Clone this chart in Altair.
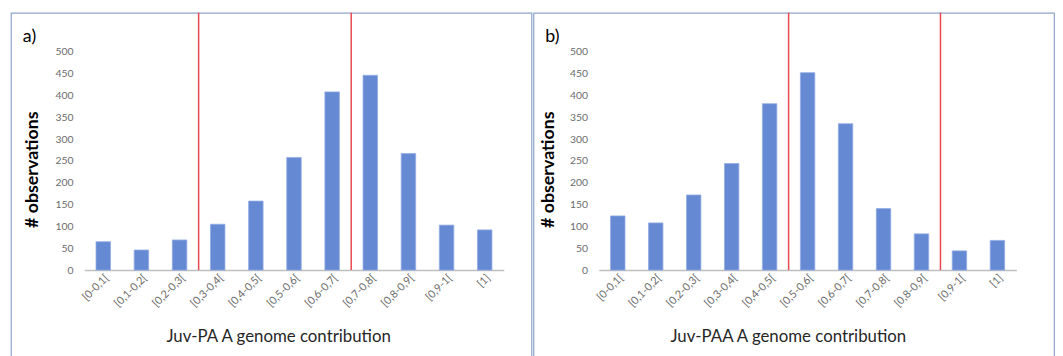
import altair as alt
import pandas as pd

categories = ["[0-0,1[", "[0,1-0,2[", "[0,2-0,3[", "[0,3-0,4[", "[0,4-0,5[",
              "[0,5-0,6[", "[0,6-0,7[", "[0,7-0,8[", "[0,8-0,9[", "[0,9-1[", "[1]"]
values_a = [65, 46, 69, 105, 158, 258, 408, 446, 267, 103, 92]
values_b = [124, 108, 172, 244, 381, 452, 335, 141, 83, 44, 68]
cutoffs_a = [3, 7]   # boundaries between category slots
cutoffs_b = [5, 9]
y_ticks = [0, 50, 100, 150, 200, 250, 300, 350, 400, 450, 500]

FONT = "Lato"
H = 350


def panel(values, cutoffs, letter, xtitle, xrange, ylab_x, ytitle_x, xtitle_x, W):
    df = pd.DataFrame({"cat": categories, "n": values})
    yscale = alt.Scale(domain=[0, 500], range=[260, 39.3], nice=False)
    yaxis = alt.Axis(title="# observations", values=y_ticks, grid=False,
                     domain=False, ticks=False, labelPadding=0,
                     labelOverlap=False,
                     offset=-ylab_x, labelFont=FONT, labelFontSize=10.5,
                     labelColor="#6b6b6b",
                     titleFont=FONT, titleFontSize=18, titleFontWeight="bold",
                     titleColor="#000000", titleAngle=270,
                     titleX=ytitle_x - ylab_x, titleY=158,
                     titleAlign="center", titleBaseline="middle")
    bars = alt.Chart(df).mark_bar(
        fill="#6689d4", stroke="#93ade3", strokeWidth=0.8
    ).encode(
        x=alt.X("cat:N", sort=categories,
                scale=alt.Scale(range=xrange, paddingInner=0.62, paddingOuter=0.31),
                axis=alt.Axis(title=xtitle, labelAngle=315, labelAlign="right",
                              labelBaseline="middle", labelPadding=6, labelOffset=4,
                              labelFont=FONT, labelFontSize=11, labelColor="#6b6b6b",
                              labelOverlap=False,
                              ticks=False, domainColor="#bfbfbf", domainWidth=1.5,
                              offset=-(H - 260),
                              titleFont=FONT, titleFontSize=17, titleFontWeight="normal",
                              titleColor="#262626", titleX=xtitle_x, titleY=72,
                              titleAlign="center", titleBaseline="alphabetic")),
        y=alt.Y("n:Q", scale=yscale, axis=yaxis),
    )
    rdf = pd.DataFrame({"pos": cutoffs, "base": [0] * len(cutoffs)})
    rules = alt.Chart(rdf).mark_rule(color="#e8474d", strokeWidth=1.5).encode(
        x=alt.X("pos:Q", scale=alt.Scale(domain=[0, 11], range=xrange), axis=None),
        y=alt.Y("base:Q", scale=yscale, axis=yaxis),
        y2=alt.value(0),
    )
    tdf = pd.DataFrame({"t": [letter]})
    label = alt.Chart(tdf).mark_text(
        align="left", baseline="alphabetic", font=FONT, fontSize=18, color="#000000"
    ).encode(text="t:N", x=alt.value(12), y=alt.value(30))
    return alt.layer(bars, rules, label).resolve_scale(x="independent").properties(
        width=W, height=H)


pa = panel(values_a, cutoffs_a, "a)", "Juv-PA A genome contribution",
           [74, 498], 62.7, 22, 270, 526)
pb = panel(values_b, cutoffs_b, "b)", "Juv-PAA A genome contribution",
           [66, 488], 54.7, 15, 257, 526)

chart = alt.hconcat(pa, pb, spacing=0).properties(
    padding={"left": 2, "top": 1, "right": 0, "bottom": 0}
).configure_view(stroke="#8ea4cc", strokeWidth=1.2).configure_axis(labelOverlap=False)

chart.save("out.html", embed_options={"renderer": "svg", "actions": False})
